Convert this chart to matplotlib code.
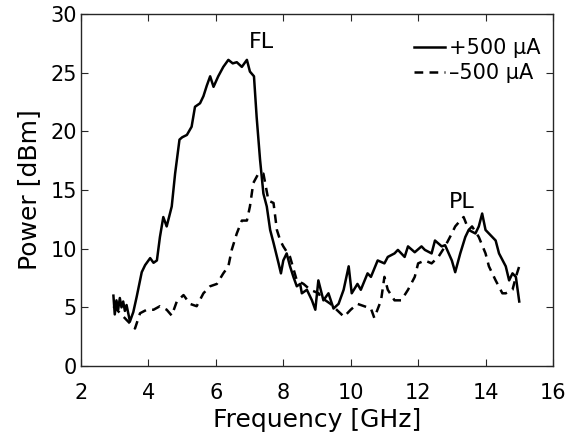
import numpy as np
import matplotlib.pyplot as plt

# +500 uA trace (solid)
freq_pos = [2.96, 3.0, 3.05, 3.1, 3.15, 3.2, 3.25, 3.3, 3.35, 3.45, 3.55, 3.65, 3.8, 3.9, 4.05,
            4.15, 4.25, 4.34, 4.44, 4.54, 4.69, 4.79, 4.92, 5.0, 5.14, 5.28, 5.38, 5.53, 5.63,
            5.73, 5.83, 5.93, 6.07, 6.22, 6.37, 6.5, 6.62, 6.77, 6.92, 7.01, 7.13, 7.21, 7.31,
            7.41, 7.51, 7.61, 7.71, 7.86, 7.93, 8.0, 8.1, 8.2, 8.3, 8.4, 8.5, 8.55, 8.7, 8.85,
            8.95, 9.04, 9.19, 9.34, 9.49, 9.64, 9.79, 9.94, 10.03, 10.2, 10.3, 10.5, 10.6, 10.8,
            11.0, 11.1, 11.3, 11.4, 11.6, 11.7, 11.9, 12.1, 12.2, 12.4, 12.5, 12.7, 12.8, 13.0,
            13.1, 13.25, 13.4, 13.5, 13.7, 13.8, 13.9, 14.0, 14.1, 14.3, 14.4, 14.6, 14.7, 14.8,
            14.9, 15.0]
power_pos = [6.0, 4.4, 5.6, 4.8, 5.8, 5.0, 5.5, 4.7, 5.2, 3.8, 4.6, 5.9, 8.0, 8.6, 9.2,
             8.8, 9.0, 11.0, 12.7, 11.9, 13.6, 16.4, 19.3, 19.5, 19.7, 20.4, 22.1, 22.4, 23.0,
             23.9, 24.7, 23.8, 24.7, 25.5, 26.1, 25.8, 25.9, 25.5, 26.1, 25.1, 24.7, 21.2, 17.6,
             14.7, 13.6, 11.6, 10.5, 8.75, 7.9, 9.0, 9.6, 8.5, 7.6, 6.8, 7.0, 6.2, 6.5, 5.6,
             4.8, 7.3, 5.6, 6.2, 4.9, 5.3, 6.5, 8.5, 6.2, 7.0, 6.5, 7.9, 7.6, 9.0,
             8.75, 9.3, 9.6, 9.9, 9.3, 10.2, 9.7, 10.2, 9.9, 9.6, 10.7, 10.2, 10.3, 9.0,
             8.0, 9.6, 11.0, 11.6, 11.3, 11.9, 13.0, 11.6, 11.3, 10.7, 9.6, 8.5, 7.3, 7.9,
             7.6, 5.5]

# -500 uA trace (dashed)
freq_neg = [2.96, 3.16, 3.36, 3.6, 3.75, 3.95, 4.15, 4.34, 4.54, 4.69, 4.84, 5.04, 5.23, 5.43,
            5.63, 5.83, 6.03, 6.22, 6.37, 6.47, 6.62, 6.77, 6.92, 7.01, 7.11, 7.26, 7.41, 7.56,
            7.71, 7.81, 7.91, 8.0, 8.2, 8.4, 8.6, 8.8, 9.05, 9.1, 9.4, 9.8, 10.0, 10.2, 10.4,
            10.6, 10.7, 10.9, 11.0, 11.1, 11.3, 11.5, 11.7, 11.9, 12.0, 12.2, 12.4, 12.6, 12.8,
            13.0, 13.1, 13.25, 13.35, 13.5, 13.6, 13.8, 14.0, 14.1, 14.3, 14.5, 14.6, 14.8,
            14.9, 15.0]
power_neg = [5.1, 4.5, 3.9, 3.2, 4.5, 4.8, 4.8, 5.1, 4.8, 4.3, 5.5, 6.05, 5.3, 5.1,
             6.2, 6.8, 7.0, 7.9, 8.5, 9.9, 11.3, 12.4, 12.4, 13.6, 15.6, 16.4, 16.4, 14.1,
             13.9, 11.6, 10.7, 10.2, 9.3, 7.3, 7.0, 6.5, 6.2, 5.9, 5.3, 4.2, 4.8, 5.3, 5.1,
             4.9, 4.1, 5.6, 7.6, 6.5, 5.6, 5.6, 6.5, 7.6, 8.75, 9.0, 8.75, 9.3, 10.2,
             11.3, 11.9, 12.4, 12.7, 11.6, 11.9, 11.0, 9.6, 8.5, 7.3, 6.2, 6.2, 6.5,
             7.6, 8.5]

xticks = [2, 4, 6, 8, 10, 12, 14, 16]
yticks = [0, 5, 10, 15, 20, 25, 30]

fig = plt.figure(figsize=(5.79, 4.41), dpi=100)
ax = fig.add_axes([0.140, 0.170, 0.815, 0.798])

ax.plot(freq_pos, power_pos, color='black', lw=1.8, ls='-', label='+500 μA')
ax.plot(freq_neg, power_neg, color='black', lw=1.8, ls=(0, (3.5, 2.5)), label='\u2013500 μA')

ax.text(7.34, 27.66, 'FL', fontsize=16, ha='center', va='center')
ax.text(13.29, 14.0, 'PL', fontsize=16, ha='center', va='center')

ax.set_xlim(2, 16)
ax.set_ylim(0, 30)
ax.set_xticks(xticks)
ax.set_yticks(yticks)
ax.tick_params(direction='in', top=True, right=True, labelsize=15, length=5,
               color='#262626')
ax.tick_params(axis='x', pad=12)
ax.tick_params(axis='y', pad=3)
for s in ax.spines.values():
    s.set_color('#262626')
    s.set_linewidth(1.0)

ax.set_xlabel('Frequency [GHz]', fontsize=18, labelpad=4)
ax.set_ylabel('Power [dBm]', fontsize=18, labelpad=7)

ax.legend(loc='upper right', bbox_to_anchor=(0.992, 0.955), frameon=False,
          fontsize=15, handlelength=1.5, handletextpad=0.2, labelspacing=0.25,
          borderaxespad=0.0)

fig.savefig('out.png', dpi=100)
